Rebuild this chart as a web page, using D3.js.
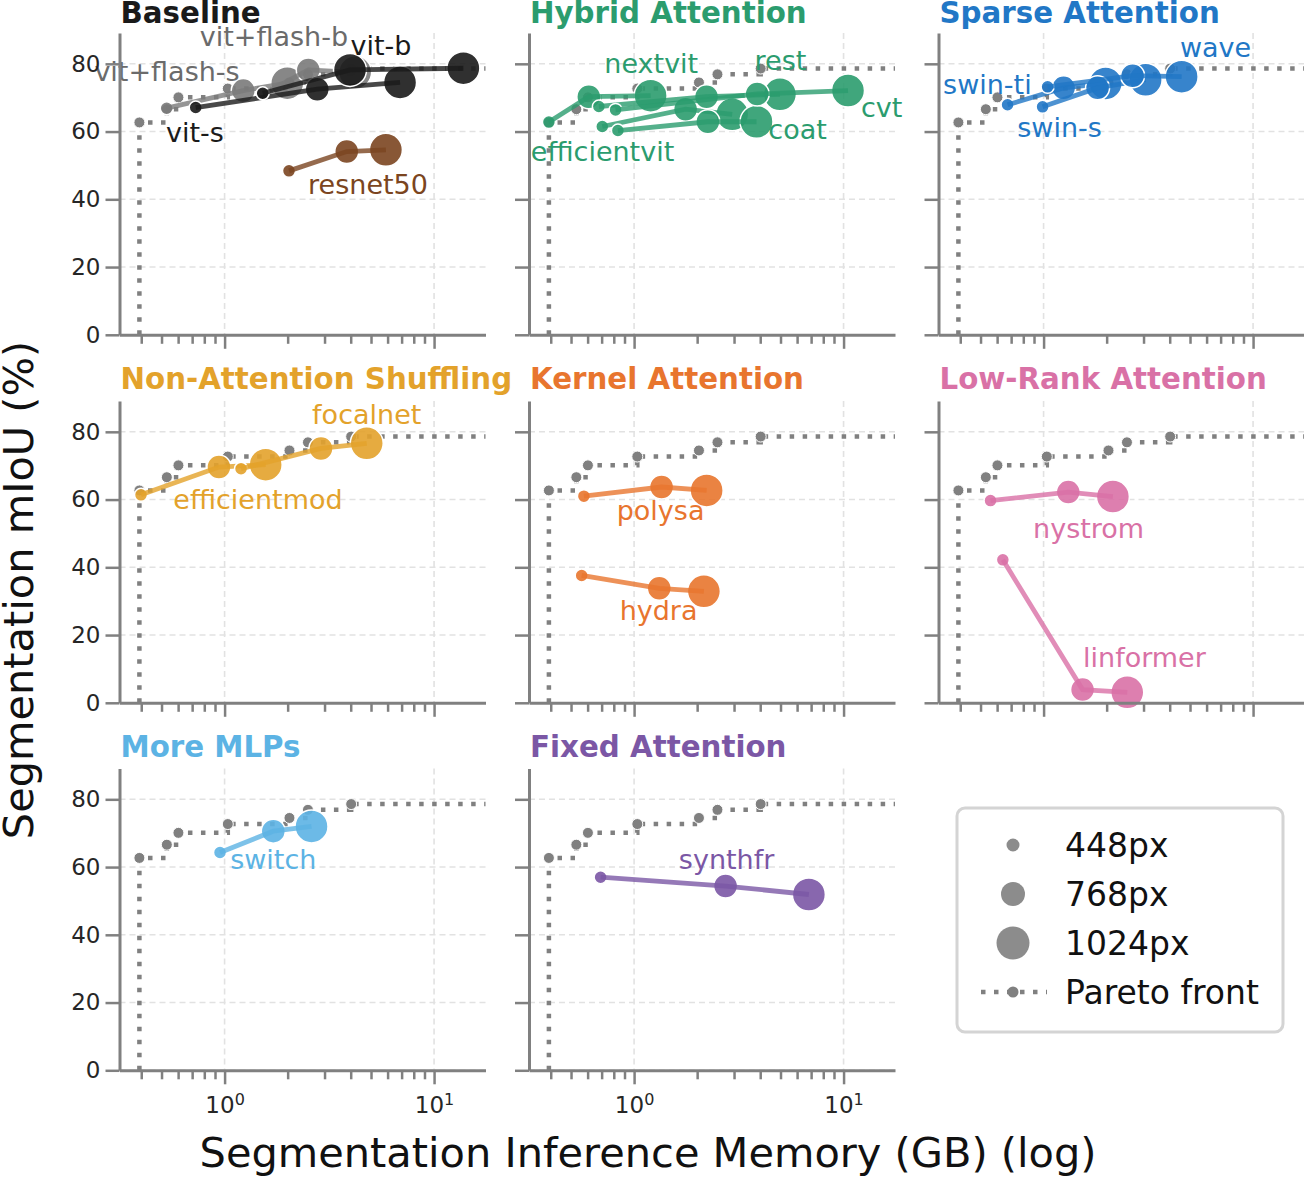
<!DOCTYPE html>
<html>
<head>
<meta charset="utf-8">
<script src="https://cdn.jsdelivr.net/npm/d3@7"></script>
<style>
  body { margin: 0; background: #fff; }
  text { font-family: "DejaVu Sans", sans-serif; }
</style>
</head>
<body>
<svg id="chart" width="1304" height="1177"></svg>
<script>
// ---- data ----
const panelTitles = ["Baseline", "Hybrid Attention", "Sparse Attention",
  "Non-Attention Shuffling", "Kernel Attention", "Low-Rank Attention",
  "More MLPs", "Fixed Attention"];
const panelColors = ["#1a1a1a", "#2b9c6e", "#2177c6", "#e3a22b", "#e8752e", "#d971a6", "#5cb3e4", "#7b57a5"];

const sizeLabels = ["448px", "768px", "1024px"];

// pareto front (GB, mIoU)
const paretoMem = [0.392, 0.530, 0.602, 1.036, 2.04, 2.50, 4.02];
const paretoMiou = [62.7, 66.6, 70.1, 72.7, 74.5, 76.9, 78.6];

// models: panel index, name, colour override
const modelPanel = [0, 0, 0, 0, 0, 1, 1, 1, 1, 1, 2, 2, 2, 3, 3, 4, 4, 5, 5, 6, 7];
const modelNames = ["vit+flash-s", "vit+flash-b", "vit-s", "vit-b", "resnet50",
  "efficientvit", "nextvit", "rest", "coat", "cvt",
  "swin-ti", "swin-s", "wave",
  "efficientmod", "focalnet",
  "polysa", "hydra",
  "nystrom", "linformer",
  "switch", "synthfr"];
const modelColor = ["#7a7a7a", "#7a7a7a", null, null, "#7b4520"];
const labelColor = ["#6b6b6b", "#6b6b6b", null, null, "#7b4520"];
// memory (GB) per resolution 448 / 768 / 1024
const modelMem = [
  [0.529, 1.228, 1.992],
  [1.52, 2.51, 4.2],
  [0.728, 2.77, 6.88],
  [1.52, 3.97, 13.8],
  [2.03, 3.83, 5.89],
  [0.392, 0.608, 1.199],
  [0.705, 1.762, 2.94],
  [0.679, 2.218, 4.97],
  [0.837, 2.25, 3.84],
  [0.816, 3.87, 10.5],
  [0.673, 1.246, 1.977],
  [0.989, 1.81, 3.07],
  [1.045, 2.66, 4.56],
  [0.399, 0.940, 1.571],
  [1.198, 2.885, 4.77],
  [0.576, 1.353, 2.22],
  [0.562, 1.319, 2.154],
  [0.558, 1.312, 2.142],
  [0.639, 1.535, 2.509],
  [0.951, 1.708, 2.60],
  [0.692, 2.734, 6.83]
];
// segmentation mIoU (%) per resolution
const modelMiou = [
  [66.9, 72.1, 74.3],
  [71.0, 78.2, 77.5],
  [67.1, 72.5, 74.5],
  [71.3, 78.2, 78.7],
  [48.4, 54.1, 54.6],
  [62.8, 70.3, 70.6],
  [61.5, 66.6, 65.1],
  [67.4, 70.3, 71.0],
  [60.3, 62.9, 62.9],
  [66.4, 71.1, 72.1],
  [67.9, 72.9, 74.2],
  [67.3, 72.9, 75.3],
  [73.2, 76.5, 76.2],
  [61.4, 69.6, 70.3],
  [69.1, 75.1, 76.6],
  [61.0, 63.7, 62.7],
  [37.6, 33.8, 32.9],
  [59.7, 62.2, 60.9],
  [42.2, 3.9, 3.1],
  [64.3, 70.6, 72.0],
  [57.0, 54.4, 51.9]
];
// resolution index of each point (0 = 448, 1 = 768, 2 = 1024)
const modelRes = modelMem.map((m, i) => i === 3 ? [0, 2, 2] : [0, 1, 2]);
// where each model's name sits (GB, mIoU)
const labelMem = [0.531, 1.72, 0.722, 5.58, 4.84,
  0.707, 1.208, 5.0, 6.03, 15.2,
  0.539, 1.192, 6.62,
  1.443, 4.77,
  1.338, 1.309,
  1.64, 3.03,
  1.708, 2.764];
const labelMiou = [74.9, 85.4, 57.0, 82.6, 41.6,
  51.4, 77.4, 78.2, 57.7, 64.4,
  71.1, 58.4, 82.0,
  57.1, 82.2,
  53.9, 24.3,
  48.8, 10.7,
  59.5, 59.5];

const yTicks = [0, 20, 40, 60, 80];
const xMajor = [1, 10];
const xMinor = [0.4, 0.5, 0.6, 0.7, 0.8, 0.9, 2, 3, 4, 5, 6, 7, 8, 9];

// ---- layout ----
const colX = [119.5, 529, 938.5];
const rowTop = [33, 401, 768.5];
const titleY = [23, 389, 757];
const panelW = 366, panelH = 301.8;
const radius = [6.5, 12, 16.5];
const axisGrey = "#808080";

const svg = d3.select("#chart");

const x = d3.scaleLog().domain([0.315, 17.6]).range([0, panelW]);
const y = d3.scaleLinear().domain([0, 89.1]).range([panelH, 0]);

svg.append("defs").append("clipPath").attr("id", "plotclip")
  .append("rect").attr("x", 0).attr("y", 0).attr("width", panelW).attr("height", panelH);

for (let p = 0; p < 8; p++) {
  const col = p % 3, row = Math.floor(p / 3);
  const g = svg.append("g").attr("transform", "translate(" + colX[col] + "," + rowTop[row] + ")");

  // grid
  g.append("g").selectAll("line").data(yTicks).join("line")
    .attr("x1", 0).attr("x2", panelW)
    .attr("y1", d => y(d)).attr("y2", d => y(d))
    .attr("stroke", "#e2e2e2").attr("stroke-width", 1.6).attr("stroke-dasharray", "6,4");
  g.append("g").selectAll("line").data(xMajor).join("line")
    .attr("x1", d => x(d)).attr("x2", d => x(d))
    .attr("y1", 0).attr("y2", panelH)
    .attr("stroke", "#e2e2e2").attr("stroke-width", 1.6).attr("stroke-dasharray", "6,4");

  // pareto front
  const pts = paretoMem.map((m, i) => [m, paretoMiou[i]]);
  const stepPts = [[paretoMem[0], 0]].concat(pts, [[100, paretoMiou[paretoMiou.length - 1]]]);
  const stepLine = d3.line().x(d => x(d[0])).y(d => y(d[1])).curve(d3.curveStepAfter);
  const pg = g.append("g").attr("clip-path", "url(#plotclip)");
  pg.append("path").attr("d", stepLine(stepPts))
    .attr("fill", "none").attr("stroke", axisGrey).attr("stroke-width", 4.5)
    .attr("stroke-dasharray", "4.5,8.5");
  pg.selectAll("circle").data(pts).join("circle")
    .attr("cx", d => x(d[0])).attr("cy", d => y(d[1])).attr("r", 5.5)
    .attr("fill", axisGrey).attr("stroke", "#fff").attr("stroke-width", 1);

  // models in this panel
  const mg = g.append("g");
  modelNames.forEach((name, i) => {
    if (modelPanel[i] !== p) return;
    const c = modelColor[i] || panelColors[p];
    const mp = modelMem[i].map((m, k) => [m, modelMiou[i][k], modelRes[i][k]]);
    mg.append("g").selectAll("circle").data(mp).join("circle")
      .attr("cx", d => x(d[0])).attr("cy", d => y(d[1])).attr("r", d => radius[d[2]])
      .attr("fill", c).attr("fill-opacity", 0.9)
      .attr("stroke", "#fff").attr("stroke-width", 1.5);
    mg.append("path").attr("d", d3.line().x(d => x(d[0])).y(d => y(d[1]))(mp))
      .attr("fill", "none").attr("stroke", c).attr("stroke-width", 4.8).attr("stroke-opacity", 0.8);
  });
  modelNames.forEach((name, i) => {
    if (modelPanel[i] !== p) return;
    g.append("text").attr("x", x(labelMem[i])).attr("y", y(labelMiou[i]))
      .attr("text-anchor", "middle").attr("font-size", 27)
      .attr("fill", labelColor[i] || panelColors[p]).text(name);
  });

  // axes
  const yAxis = d3.axisLeft(y).tickValues(yTicks).tickSize(14).tickSizeOuter(0).tickPadding(5)
    .tickFormat(col === 0 ? d3.format("d") : () => "");
  const ya = g.append("g").call(yAxis);
  const xAxis = d3.axisBottom(x).tickValues(xMajor).tickSize(14).tickSizeOuter(0).tickPadding(12)
    .tickFormat(() => "");
  const xa = g.append("g").attr("transform", "translate(0," + panelH + ")").call(xAxis);
  const xm = g.append("g").attr("transform", "translate(0," + panelH + ")")
    .call(d3.axisBottom(x).tickValues(xMinor).tickSize(9).tickSizeOuter(0).tickFormat(() => ""));
  xm.select(".domain").remove();
  [ya, xa, xm].forEach(a => {
    a.selectAll(".domain").attr("stroke", axisGrey).attr("stroke-width", 3);
    a.selectAll(".tick line").attr("stroke", axisGrey).attr("stroke-width", 2.5);
    a.selectAll(".tick text").attr("fill", "#262626").attr("font-size", 23)
      .attr("font-family", "DejaVu Sans");
  });
  if (row === 2) {
    // 10^k labels with a raised exponent
    xa.selectAll(".tick text").each(function (d) {
      const t = d3.select(this);
      t.append("tspan").text("10");
      t.append("tspan").attr("dy", "-0.45em").attr("font-size", 16)
        .text(String(Math.round(Math.log10(d))));
    });
  }

  // title
  svg.append("text").attr("x", colX[col] + 1).attr("y", titleY[row])
    .attr("font-size", 29.3).attr("font-weight", "bold").attr("fill", panelColors[p])
    .text(panelTitles[p]);
}

// axis labels
svg.append("text").attr("transform", "translate(33,590) rotate(-90)")
  .attr("text-anchor", "middle").attr("font-size", 41.5).attr("fill", "#111")
  .text("Segmentation mIoU (%)");
svg.append("text").attr("x", 648).attr("y", 1167)
  .attr("text-anchor", "middle").attr("font-size", 41.5).attr("fill", "#111")
  .text("Segmentation Inference Memory (GB) (log)");

// legend
const lg = svg.append("g").attr("transform", "translate(957,808)");
lg.append("rect").attr("width", 326).attr("height", 224).attr("rx", 8)
  .attr("fill", "#fff").attr("stroke", "#d4d4d4").attr("stroke-width", 3);
sizeLabels.forEach((s, k) => {
  lg.append("circle").attr("cx", 56).attr("cy", 37 + k * 49).attr("r", radius[k])
    .attr("fill", "#8c8c8c");
  lg.append("text").attr("x", 108).attr("y", 37 + k * 49 + 12).attr("font-size", 33)
    .attr("fill", "#111").text(s);
});
lg.append("line").attr("x1", 24).attr("x2", 90).attr("y1", 184).attr("y2", 184)
  .attr("stroke", axisGrey).attr("stroke-width", 4.5).attr("stroke-dasharray", "4.5,8.5");
lg.append("circle").attr("cx", 56).attr("cy", 184).attr("r", 5.5).attr("fill", axisGrey);
lg.append("text").attr("x", 108).attr("y", 196).attr("font-size", 33)
  .attr("fill", "#111").text("Pareto front");
</script>
</body>
</html>
